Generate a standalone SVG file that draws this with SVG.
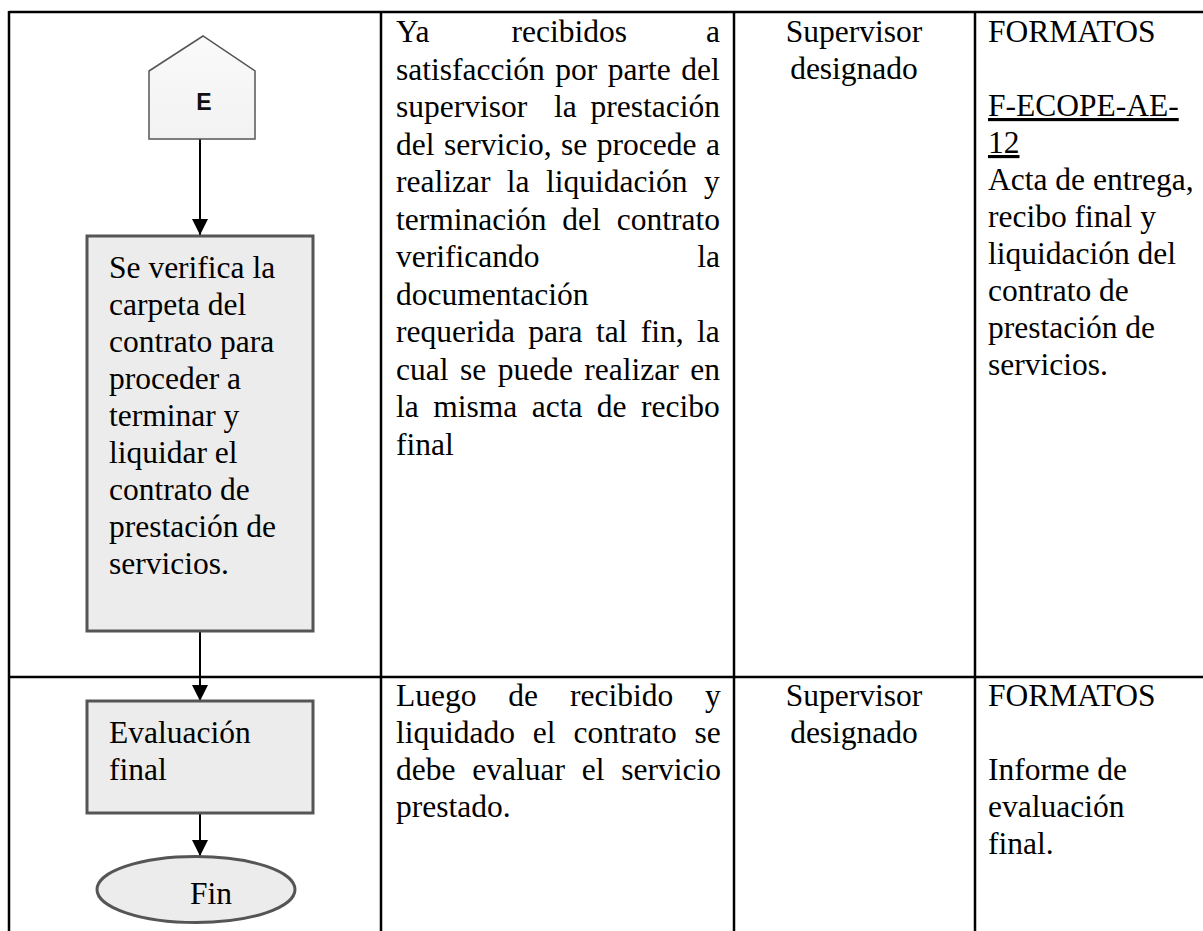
<svg xmlns="http://www.w3.org/2000/svg" width="1203" height="931" viewBox="0 0 1203 931">
<style>
.t{font-family:"Liberation Serif","Times New Roman",serif;font-size:31.5px;fill:#000}
.e{font-family:"Liberation Sans",Arial,sans-serif;font-size:23px;font-weight:bold;fill:#111}
.grid{stroke:#000;stroke-width:2.5;fill:none}
.box{fill:#ececec;stroke:#555;stroke-width:3}
.conn{stroke:#000;stroke-width:2;fill:none}
.u{text-decoration:underline}
</style>
<defs>
<marker id="ah" viewBox="0 0 16 16" refX="16" refY="8" markerWidth="16" markerHeight="16" markerUnits="userSpaceOnUse" orient="auto">
<path d="M0,0 L16,8 L0,16 Z" fill="#000"/>
</marker>
<linearGradient id="pg" x1="0" y1="0" x2="0" y2="1">
<stop offset="0" stop-color="#fafafa"/>
<stop offset="1" stop-color="#f2f2f2"/>
</linearGradient>
</defs>
<rect width="1203" height="931" fill="#fff"/>
<g id="table">
<line class="grid" x1="9" y1="12" x2="1203" y2="12"/>
<line class="grid" x1="9" y1="677" x2="1203" y2="677"/>
<line class="grid" x1="9" y1="11" x2="9" y2="931"/>
<line class="grid" x1="381" y1="11" x2="381" y2="931"/>
<line class="grid" x1="734" y1="11" x2="734" y2="931"/>
<line class="grid" x1="975" y1="11" x2="975" y2="931"/>
</g>
<g id="connectors">
<line class="conn" x1="200" y1="139" x2="200" y2="235" marker-end="url(#ah)"/>
<line class="conn" x1="200" y1="632" x2="200" y2="701" marker-end="url(#ah)"/>
<line class="conn" x1="200" y1="814" x2="200" y2="856" marker-end="url(#ah)"/>
</g>
<g id="node-E">
<polygon points="149,71 203,36 255,71 255,139 149,139" fill="url(#pg)" stroke="#555" stroke-width="1.5"/>
<text class="e" x="204" y="110" text-anchor="middle">E</text>
</g>
<g id="node-verifica">
<rect class="box" x="87" y="236" width="226" height="395"/>
<text class="t" x="109" y="278">Se verifica la</text>
<text class="t" x="109" y="315">carpeta del</text>
<text class="t" x="109" y="352">contrato para</text>
<text class="t" x="109" y="389">proceder a</text>
<text class="t" x="109" y="426">terminar y</text>
<text class="t" x="109" y="463">liquidar el</text>
<text class="t" x="109" y="500">contrato de</text>
<text class="t" x="109" y="537">prestación de</text>
<text class="t" x="109" y="574">servicios.</text>
</g>
<g id="node-evaluacion">
<rect class="box" x="87" y="701" width="226" height="112"/>
<text class="t" x="109" y="743">Evaluación</text>
<text class="t" x="109" y="780">final</text>
</g>
<g id="node-fin">
<ellipse class="box" cx="196" cy="889.5" rx="99" ry="33"/>
<text class="t" x="190" y="904">Fin</text>
</g>
<g id="row1-desc">
<text class="t" x="396" y="42">Ya</text>
<text class="t" x="511.6" y="42">recibidos</text>
<text class="t" x="720" y="42" text-anchor="end">a</text>
<text class="t" x="396" y="79.5" style="word-spacing:2.7px">satisfacción por parte del</text>
<text class="t" x="396" y="117">supervisor</text>
<text class="t" x="554" y="117">la</text>
<text class="t" x="720" y="117" text-anchor="end">prestación</text>
<text class="t" x="396" y="154.5" style="word-spacing:1.6px">del servicio, se procede a</text>
<text class="t" x="396" y="192" style="word-spacing:8.5px">realizar la liquidación y</text>
<text class="t" x="396" y="229.5" style="word-spacing:8px">terminación del contrato</text>
<text class="t" x="396" y="267">verificando</text>
<text class="t" x="720" y="267" text-anchor="end">la</text>
<text class="t" x="396" y="304.5">documentación</text>
<text class="t" x="396" y="342" style="word-spacing:5.5px">requerida para tal fin, la</text>
<text class="t" x="396" y="379.5" style="word-spacing:3.6px">cual se puede realizar en</text>
<text class="t" x="396" y="417" style="word-spacing:6.6px">la misma acta de recibo</text>
<text class="t" x="396" y="454.5">final</text>
</g>
<g id="row1-resp">
<text class="t" x="854" y="42" text-anchor="middle">Supervisor</text>
<text class="t" x="854" y="79" text-anchor="middle">designado</text>
</g>
<g id="row1-formatos">
<text class="t" x="988" y="42">FORMATOS</text>
<text class="t u" x="988" y="116">F-ECOPE-AE-</text>
<text class="t u" x="988" y="153">12</text>
<text class="t" x="988" y="190">Acta de entrega,</text>
<text class="t" x="988" y="227">recibo final y</text>
<text class="t" x="988" y="264">liquidación del</text>
<text class="t" x="988" y="301">contrato de</text>
<text class="t" x="988" y="338">prestación de</text>
<text class="t" x="988" y="375">servicios.</text>
</g>
<g id="row2-desc">
<text class="t" x="396" y="706" style="word-spacing:24px">Luego de recibido y</text>
<text class="t" x="396" y="743" style="word-spacing:10px">liquidado el contrato se</text>
<text class="t" x="396" y="780" style="word-spacing:8.9px">debe evaluar el servicio</text>
<text class="t" x="396" y="817">prestado.</text>
</g>
<g id="row2-resp">
<text class="t" x="854" y="706" text-anchor="middle">Supervisor</text>
<text class="t" x="854" y="743" text-anchor="middle">designado</text>
</g>
<g id="row2-formatos">
<text class="t" x="988" y="706">FORMATOS</text>
<text class="t" x="988" y="780">Informe de</text>
<text class="t" x="988" y="817">evaluación</text>
<text class="t" x="988" y="854">final.</text>
</g>
</svg>
